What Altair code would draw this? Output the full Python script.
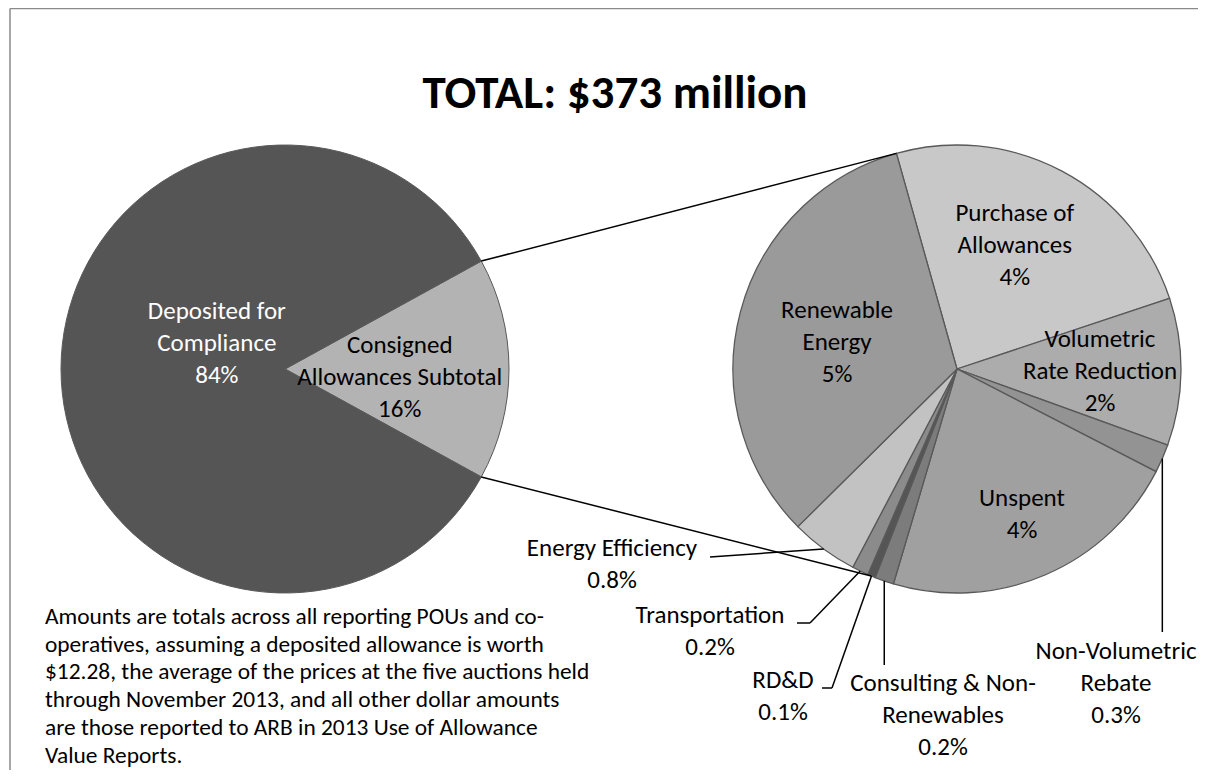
import math
import altair as alt
import pandas as pd

# ---------------- data ----------------
main_names = ["Consigned Allowances Subtotal", "Deposited for Compliance"]
main_lines = [["Consigned", "Allowances Subtotal"], ["Deposited for", "Compliance"]]
main_values = [16.0, 84.0]
main_pct = ["16%", "84%"]

sub_names = ["Purchase of Allowances", "Volumetric Rate Reduction", "Non-Volumetric Rebate",
             "Unspent", "Consulting & Non-Renewables", "RD&D", "Transportation",
             "Energy Efficiency", "Renewable Energy"]
sub_lines = [["Purchase of", "Allowances"], ["Volumetric", "Rate Reduction"],
             ["Non-Volumetric", "Rebate"], ["Unspent"], ["Consulting & Non-", "Renewables"],
             ["RD&D"], ["Transportation"], ["Energy Efficiency"], ["Renewable", "Energy"]]
sub_values = [3.88, 1.70, 0.33, 3.52, 0.22, 0.09, 0.19, 0.78, 5.29]
sub_pct = ["4%", "2%", "0.3%", "4%", "0.2%", "0.1%", "0.2%", "0.8%", "5%"]

title_text = "TOTAL: $373 million"
note_lines = [
    "Amounts are totals across all reporting POUs and co-",
    "operatives, assuming a deposited allowance is worth",
    "$12.28, the average of the prices at the five auctions held",
    "through November 2013, and all other dollar amounts",
    "are those reported to ARB in 2013 Use of Allowance",
    "Value Reports.",
]

# ---------------- style / layout ----------------
FONT = "Calibri, Carlito, Lato"
main_colors = ["#b3b3b3", "#555555"]
main_text_colors = ["#000000", "#ffffff"]
sub_colors = ["#c8c8c8", "#acacac", "#939393", "#a0a0a0", "#7c7c7c", "#555555",
              "#8b8b8b", "#c2c2c2", "#9a9a9a"]
W, H = 1190, 762
R = 224
LCX, LCY = 277, 361
RCX, RCY = 949, 361
sub_start = math.radians(-15.7)
lower_series_angle = math.radians(202.5)
LABEL_FS = 25
LINE_H = 32

# inside-label placement: (radius, angle offset deg) of the label block centre
main_inside = {0: (115, 4), 1: (73, 21)}
sub_inside = {0: (137, -3), 1: (143, 0), 3: (159, -1), 8: (123, -2)}
# outside labels: block centre and leader path points
sub_outside = {
    7: {"pos": (604, 556), "path": [(702, 549)]},
    6: {"pos": (702, 623), "path": [(802, 615), (789, 615)]},
    5: {"pos": (775, 688), "path": [(824, 680), (814, 680)]},
    4: {"pos": (935, 707), "path": [("edge", 657)]},
    2: {"pos": (1108, 675), "path": [("edge", 624)]},
}


def polar(cx, cy, r, ang):
    return cx + r * math.sin(ang), cy - r * math.cos(ang)


def cum_angles(values, start):
    tot = sum(values)
    out, acc = [], start
    for v in values:
        a0 = acc
        acc += 2 * math.pi * v / tot
        out.append((a0, acc))
    return out


def block_top(yc, n, lh=LINE_H):
    return yc - (n - 1) * lh / 2


main_start = math.pi / 2 - math.pi * main_values[0] / sum(main_values)
main_ang = cum_angles(main_values, main_start)
sub_ang = cum_angles(sub_values, sub_start)

xs = alt.Scale(domain=[0, W], range=[0, W])
ys = alt.Scale(domain=[0, H], range=[0, H])

# ---------------- pies ----------------
df_main = pd.DataFrame({"name": main_names, "value": main_values,
                        "idx": list(range(len(main_names))), "fill": main_colors})
df_sub = pd.DataFrame({"name": sub_names, "value": sub_values,
                       "idx": list(range(len(sub_names))), "fill": sub_colors})

pie_left = alt.Chart(df_main).mark_arc(radius=R, stroke="#595959", strokeWidth=1).encode(
    theta=alt.Theta("value:Q", stack=True,
                    scale=alt.Scale(range=[main_start, main_start + 2 * math.pi])),
    order=alt.Order("idx:Q"),
    color=alt.Color("fill:N", scale=None),
    x=alt.value(LCX), y=alt.value(LCY),
)
pie_right = alt.Chart(df_sub).mark_arc(radius=R, stroke="#595959", strokeWidth=1.3).encode(
    theta=alt.Theta("value:Q", stack=True,
                    scale=alt.Scale(range=[sub_start, sub_start + 2 * math.pi])),
    order=alt.Order("idx:Q"),
    color=alt.Color("fill:N", scale=None),
    x=alt.value(RCX), y=alt.value(RCY),
)

# ---------------- labels ----------------
rows = []
for i, (r, off) in main_inside.items():
    mid = (main_ang[i][0] + main_ang[i][1]) / 2 + math.radians(off)
    x, y = polar(LCX, LCY, r, mid)
    t = main_lines[i] + [main_pct[i]]
    rows.append({"x": x, "y": block_top(y, len(t)), "t": t, "c": main_text_colors[i]})
for i, (r, off) in sub_inside.items():
    mid = (sub_ang[i][0] + sub_ang[i][1]) / 2 + math.radians(off)
    x, y = polar(RCX, RCY, r, mid)
    t = sub_lines[i] + [sub_pct[i]]
    rows.append({"x": x, "y": block_top(y, len(t)), "t": t, "c": "#000000"})

segs = []
for i, spec in sub_outside.items():
    x, y = spec["pos"]
    t = sub_lines[i] + [sub_pct[i]]
    rows.append({"x": x, "y": block_top(y, len(t)), "t": t, "c": "#000000"})
    mid = (sub_ang[i][0] + sub_ang[i][1]) / 2
    px, py = polar(RCX, RCY, R, mid)
    for qx, qy in spec["path"]:
        if qx == "edge":
            qx = px
        segs.append({"x": px, "y": py, "x2": qx, "y2": qy})
        px, py = qx, qy

df_lab = pd.DataFrame(rows)
labels = alt.Chart(df_lab).mark_text(
    font=FONT, fontSize=LABEL_FS, lineHeight=LINE_H, align="center", baseline="middle"
).encode(
    x=alt.X("x:Q", scale=xs, axis=None), y=alt.Y("y:Q", scale=ys, axis=None),
    text="t", color=alt.Color("c:N", scale=None),
)

# series lines between the two pies
for a_left, a_right in [(main_ang[0][0], sub_start), (main_ang[0][1], lower_series_angle)]:
    x1, y1 = polar(LCX, LCY, R, a_left)
    x2, y2 = polar(RCX, RCY, R, a_right)
    segs.append({"x": x1, "y": y1, "x2": x2, "y2": y2})

df_seg = pd.DataFrame(segs)
lines = alt.Chart(df_seg).mark_rule(color="#000000", strokeWidth=1.5).encode(
    x=alt.X("x:Q", scale=xs, axis=None), y=alt.Y("y:Q", scale=ys, axis=None),
    x2="x2:Q", y2="y2:Q",
)

# frame (top and left edges visible; right and bottom run off the picture)
df_frame = pd.DataFrame({"x": [2, 2], "y": [0.5, 0.5], "x2": [W + 40, 2], "y2": [0.5, H + 40]})
frame = alt.Chart(df_frame).mark_rule(color="#8a8a8a", strokeWidth=1.5).encode(
    x=alt.X("x:Q", scale=xs, axis=None), y=alt.Y("y:Q", scale=ys, axis=None),
    x2="x2:Q", y2="y2:Q",
)

# title
df_title = pd.DataFrame({"x": [607], "y": [100], "t": [title_text]})
title = alt.Chart(df_title).mark_text(
    font=FONT, fontSize=47, fontWeight="bold", align="center", baseline="alphabetic"
).encode(x=alt.X("x:Q", scale=xs, axis=None), y=alt.Y("y:Q", scale=ys, axis=None), text="t")

# footnote
df_note = pd.DataFrame({"x": [37], "y": [609], "t": [note_lines]})
note = alt.Chart(df_note).mark_text(
    font=FONT, fontSize=23.4, lineHeight=27.7, align="left", baseline="middle"
).encode(x=alt.X("x:Q", scale=xs, axis=None), y=alt.Y("y:Q", scale=ys, axis=None), text="t")

chart = alt.layer(frame, pie_left, pie_right, lines, labels, title, note).resolve_scale(
    theta="independent"
).properties(
    width=W, height=H, autosize=alt.AutoSizeParams(type="none"), padding=0
).configure_view(stroke=None)

chart.save("out.html", embed_options={"renderer": "svg", "actions": False})
